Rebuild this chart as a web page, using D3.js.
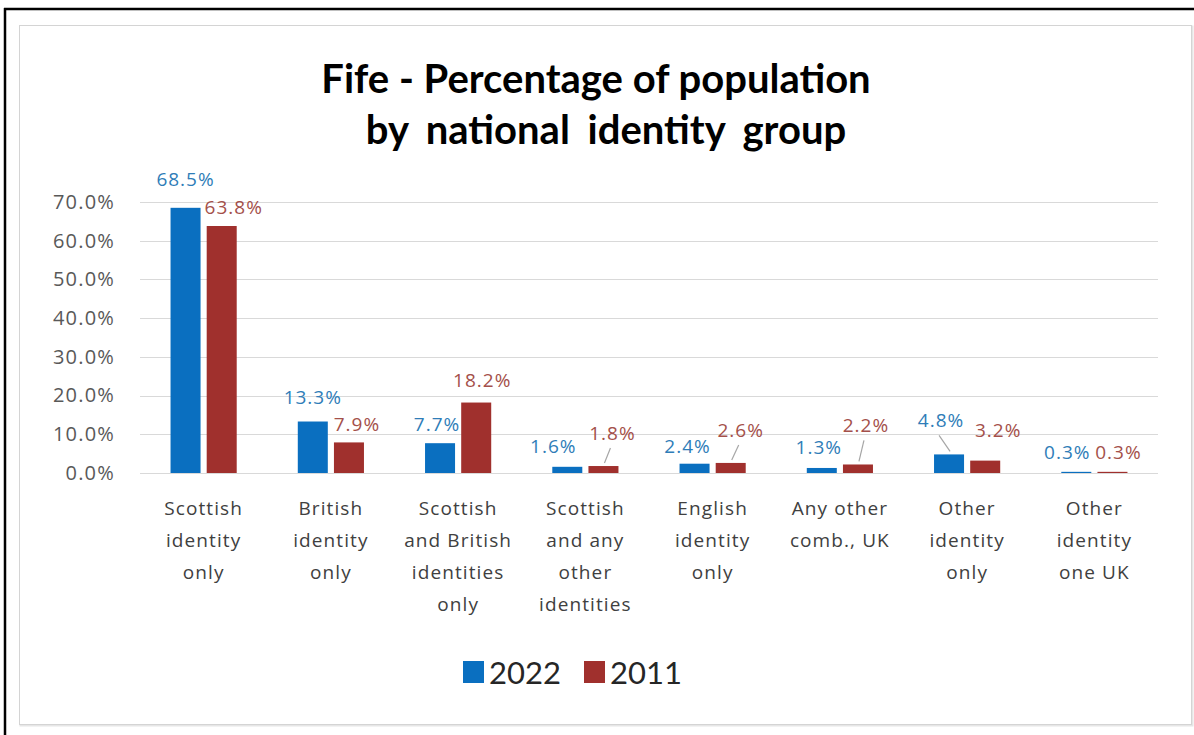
<!DOCTYPE html>
<html>
<head>
<meta charset="utf-8">
<script src="https://cdn.jsdelivr.net/npm/d3@7"></script>
<style>
  html, body { margin: 0; padding: 0; background: #ffffff; }
  svg { display: block; }
</style>
</head>
<body>
<div id="chart"></div>
<script>
// ---------- DATA ----------
const categories = [
  "Scottish identity only",
  "British identity only",
  "Scottish and British identities only",
  "Scottish and any other identities",
  "English identity only",
  "Any other comb., UK",
  "Other identity only",
  "Other identity one UK"
];
const categoryLines = [
  ["Scottish", "identity", "only"],
  ["British", "identity", "only"],
  ["Scottish", "and British", "identities", "only"],
  ["Scottish", "and any", "other", "identities"],
  ["English", "identity", "only"],
  ["Any other", "comb., UK"],
  ["Other", "identity", "only"],
  ["Other", "identity", "one UK"]
];
const seriesNames = ["2022", "2011"];
const values2022 = [68.5, 13.3, 7.7, 1.6, 2.4, 1.3, 4.8, 0.3];
const values2011 = [63.8, 7.9, 18.2, 1.8, 2.6, 2.2, 3.2, 0.3];
const yTicks = [0, 10, 20, 30, 40, 50, 60, 70];
const titleLines = ["Fife - Percentage of population", "by national identity group"];

// ---------- LAYOUT / STYLE ----------
const W = 1194, H = 735;
const colors = { "2022": "#0a6fc0", "2011": "#a0302d" };
const labelColors = { "2022": "#2f7db8", "2011": "#a4504a" };
// manual label nudges (dx, dy from bar centre / bar top), like dragged Excel labels
const labelNudge = {
  "2022": [[0, -28], [0, -24], [-3, -19], [-14, -20], [-7, -17], [-3, -21], [-8, -34], [-9, -19]],
  "2011": [[12, -19], [8, -18], [6, -22], [9, -33], [10, -33], [8, -39], [13, -30], [6, -19]]
};
const leaders = {
  "2022": [false, false, false, false, false, false, true, false],
  "2011": [false, false, false, true, true, true, false, false]
};

const plot = { left: 140, right: 1158, top: 202, bottom: 473 };

const svg = d3.select("#chart").append("svg")
  .attr("width", W).attr("height", H);

// outer black frame (top + left)
svg.append("line").attr("x1", 4).attr("x2", W).attr("y1", 9).attr("y2", 9)
  .attr("stroke", "#000").attr("stroke-width", 2.5);
svg.append("line").attr("x1", 5).attr("x2", 5).attr("y1", 8).attr("y2", H)
  .attr("stroke", "#000").attr("stroke-width", 2.5);

// chart area
svg.append("rect").attr("x", 20.5).attr("y", 26.5).attr("width", 1172).attr("height", 699)
  .attr("fill", "none").attr("stroke", "#e6e6e6").attr("stroke-width", 2);
svg.append("rect").attr("x", 19.5).attr("y", 25.5).attr("width", 1172).attr("height", 699)
  .attr("fill", "#ffffff").attr("stroke", "#d4d4d4").attr("stroke-width", 1);

// title
const title = svg.append("text")
  .attr("text-anchor", "middle")
  .attr("font-family", "Lato, 'Open Sans', sans-serif")
  .attr("font-weight", "bold")
  .attr("font-size", 40)
  .attr("fill", "#000");
title.selectAll("tspan").data(titleLines).join("tspan")
  .attr("x", (d, i) => i === 0 ? 596 : 606)
  .attr("y", (d, i) => 93 + i * 51)
  .attr("word-spacing", (d, i) => i === 0 ? 0 : 8)
  .text(d => d);

// scales
const x0 = d3.scaleBand().domain(categories)
  .range([plot.left, plot.right]).paddingInner(0.48).paddingOuter(0.24);
const x1 = d3.scaleBand().domain(seriesNames)
  .range([0, x0.bandwidth()]).paddingInner(0.17);
const y = d3.scaleLinear().domain([0, 70]).range([plot.bottom, plot.top]);

// gridlines
svg.append("g").selectAll("line").data(yTicks).join("line")
  .attr("x1", plot.left).attr("x2", plot.right)
  .attr("y1", d => Math.round(y(d)) + 0.5).attr("y2", d => Math.round(y(d)) + 0.5)
  .attr("stroke", "#d9d9d9").attr("stroke-width", 1);

// y axis labels
const yAxis = d3.axisLeft(y).tickValues(yTicks).tickSize(0).tickPadding(0)
  .tickFormat(d => d3.format(".1f")(d) + "%");
const yg = svg.append("g").attr("transform", `translate(115,0)`).call(yAxis);
yg.select(".domain").remove();
yg.selectAll("text")
  .attr("font-family", "'Open Sans', sans-serif")
  .attr("font-size", 20)
  .attr("letter-spacing", 1.2)
  .attr("fill", "#595959");

// bars
const series = seriesNames.map(s => ({ name: s, values: s === "2022" ? values2022 : values2011 }));
const gBars = svg.append("g");
series.forEach(s => {
  gBars.append("g").selectAll("rect").data(s.values).join("rect")
    .attr("x", (d, i) => x0(categories[i]) + x1(s.name))
    .attr("y", d => y(d))
    .attr("width", x1.bandwidth())
    .attr("height", d => y(0) - y(d))
    .attr("fill", colors[s.name]);
});

// data labels + leader lines
const gLab = svg.append("g");
series.forEach(s => {
  s.values.forEach((v, i) => {
    const cx = x0(categories[i]) + x1(s.name) + x1.bandwidth() / 2;
    const top = y(v);
    const [dx, dy] = labelNudge[s.name][i];
    const lx = cx + dx, ly = top + dy;
    if (leaders[s.name][i]) {
      gLab.append("line")
        .attr("x1", cx + 1).attr("y1", top - 3)
        .attr("x2", lx - 2).attr("y2", ly + 15)
        .attr("stroke", "#a6a6a6").attr("stroke-width", 1.2);
    }
    gLab.append("text")
      .attr("x", lx).attr("y", ly)
      .attr("dy", "0.35em")
      .attr("text-anchor", "middle")
      .attr("font-family", "'Open Sans', sans-serif")
      .attr("font-size", 19)
      .attr("letter-spacing", 1)
      .attr("fill", labelColors[s.name])
      .text(d3.format(".1f")(v) + "%");
  });
});

// category labels
const gCat = svg.append("g");
categories.forEach((c, i) => {
  const cx = x0(c) + x0.bandwidth() / 2;
  const t = gCat.append("text")
    .attr("text-anchor", "middle")
    .attr("font-family", "'Open Sans', sans-serif")
    .attr("font-size", 19)
    .attr("letter-spacing", 1.1)
    .attr("fill", "#404040");
  t.selectAll("tspan").data(categoryLines[i]).join("tspan")
    .attr("x", cx)
    .attr("y", (d, k) => 515 + k * 32)
    .text(d => d);
});

// legend
const legend = svg.append("g");
const legendItems = [
  { name: "2022", x: 463 },
  { name: "2011", x: 584 }
];
legendItems.forEach(it => {
  legend.append("rect").attr("x", it.x).attr("y", 661).attr("width", 21).attr("height", 22)
    .attr("fill", colors[it.name]);
  legend.append("text").attr("x", it.x + 26).attr("y", 684)
    .attr("font-family", "Lato, sans-serif")
    .attr("font-size", 31)
    .attr("fill", "#262626")
    .text(it.name);
});
</script>
</body>
</html>
